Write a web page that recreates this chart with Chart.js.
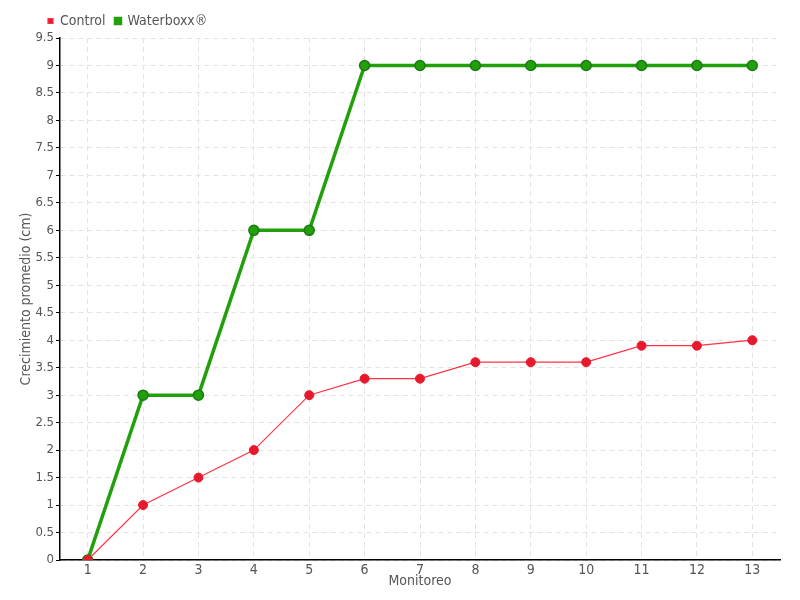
<!DOCTYPE html>
<html><head><meta charset="utf-8">
<script src="https://cdn.jsdelivr.net/npm/chart.js@4"></script>
<style>html,body{margin:0;padding:0;background:#fff}#w{width:800px;height:600px}</style>
</head><body><div id="w"><canvas id="c" width="800" height="600"></canvas></div>
<script>
const categories = ['1','2','3','4','5','6','7','8','9','10','11','12','13'];
const controlValues = [0, 1, 1.5, 2, 3, 3.3, 3.3, 3.6, 3.6, 3.6, 3.9, 3.9, 4.0];
const waterboxxValues = [0, 3, 3, 6, 6, 9, 9, 9, 9, 9, 9, 9, 9];
const seriesNames = ['Control', 'Waterboxx®'];
const xTitle = 'Monitoreo';
const yTitle = 'Crecimiento promedio (cm)';

const FONT = '"DejaVu Sans Condensed", "Liberation Sans Narrow", sans-serif';
const TXT = '#555';

new Chart(document.getElementById('c'), {
  type: 'line',
  data: {
    labels: categories,
    datasets: [
      { label: seriesNames[0], data: controlValues, borderColor: '#ff3344', backgroundColor: '#e8192c',
        pointBackgroundColor: '#e8192c', pointBorderColor: '#e8192c', borderWidth: 1.2, pointRadius: 4.5, pointBorderWidth: 1, tension: 0 },
      { label: seriesNames[1], data: waterboxxValues, borderColor: '#22a00c', backgroundColor: '#22a00c',
        pointBackgroundColor: '#22a00c', pointBorderColor: '#1a7a12', borderWidth: 3.5, pointRadius: 5, pointBorderWidth: 1.5, tension: 0 }
    ]
  },
  options: {
    responsive: false, animation: false,
    layout: { padding: { top: 4, right: 20, left: 0, bottom: 0 } },
    plugins: {
      tooltip: { enabled: false },
      legend: { position: 'top', align: 'start',
        labels: { boxWidth: 5, boxHeight: 5, padding: 10, color: TXT, font: { family: FONT, size: 14 } } }
    },
    scales: {
      x: {
        offset: true,
        grid: { offset: false, color: '#e3e3e3', drawTicks: false },
        border: { color: '#000', width: 1.5, dash: [5, 4] },
        ticks: { color: TXT, font: { family: FONT, size: 14 }, padding: 2, maxRotation: 0, autoSkip: false },
        title: { display: true, text: xTitle, color: TXT, font: { family: FONT, size: 14 }, padding: { top: 0, bottom: 10 } },
        afterFit: s => { s.height = 40; }
      },
      y: {
        min: 0, max: 9.5,
        grid: { color: '#e3e3e3', tickColor: '#000', tickLength: 4, tickBorderDash: [] },
        border: { color: '#000', width: 1.5, dash: [5, 4] },
        ticks: { stepSize: 0.5, color: TXT, font: { family: FONT, size: 13 }, padding: 2, callback: v => String(v) },
        title: { display: true, text: yTitle, color: TXT, font: { family: FONT, size: 14 }, padding: { top: 18, bottom: 0 } },
        afterFit: s => { s.width = 60; }
      }
    }
  },
  plugins: [{
    id: 'legendShift',
    afterLayout(chart) {
      if (chart.legend) { chart.legend.left += 38; chart.legend.right += 38; }
    }
  }]
});
</script></body></html>
